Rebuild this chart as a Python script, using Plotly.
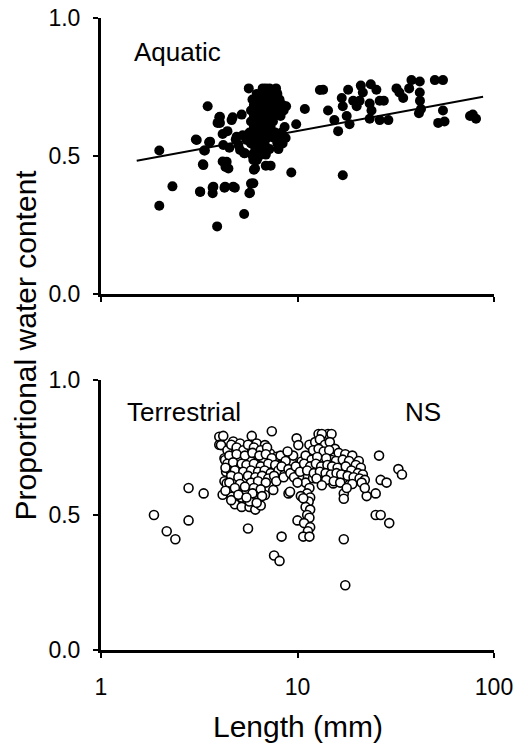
import numpy as np
import plotly.graph_objects as go

# aquatic species: body length (mm) and proportional water content
aquatic_length = [
    1.98, 1.98, 2.31, 3.04, 3.2, 3.3, 3.35, 3.49, 3.55, 3.7, 3.7, 3.9, 3.92, 4.0, 4.16,
    4.16, 4.3, 4.25, 4.4, 4.5, 4.68, 4.8, 4.85, 5.0, 5.2, 5.26, 5.35, 5.35, 5.65, 5.8,
    5.69, 5.92, 6.0, 6.65, 7.2, 7.78, 6.9, 7.3, 8.75, 8.3, 8.0, 9.3, 9.85, 10.9, 13.5,
    14.3, 15.4, 16.1, 17.0, 16.8, 17.0, 18.1, 17.8, 18.4, 19.2, 20.0, 20.7, 21.0, 21.5,
    23.6, 23.3, 23.8, 25.2, 26.2, 27.5, 23.3, 26.2, 29.0, 31.9, 33.0, 34.5, 38.0, 41.9,
    37.0, 41.9, 42.0, 42.5, 41.5, 50.0, 55.0, 55.0, 52.0, 56.0, 75.5, 81.0, 78.0,
    4.03, 4.03, 4.62, 3.07, 3.38, 3.59, 4.19, 4.9, 5.51, 5.1, 5.4, 5.96, 6.32, 6.08,
    3.32, 4.36, 4.45, 4.28, 4.71, 3.73, 3.19, 5.96, 5.73, 13.0,
    6.9, 6.2, 6.6, 7.0, 7.4, 7.9, 5.9, 6.3, 6.7, 7.1, 7.5, 8.1, 6.0, 6.4, 6.8, 7.2,
    7.7, 8.4, 5.8, 6.2, 6.6, 7.0, 7.4, 7.9, 8.5, 6.0, 6.4, 6.8, 7.2, 7.6, 8.2, 5.8,
    6.2, 6.6, 7.0, 7.5, 6.0, 6.5, 6.9, 7.3, 8.6, 5.7, 6.2, 6.7, 7.1, 7.7, 8.3, 6.0,
    6.5, 7.0, 7.6, 8.0, 8.7, 5.8, 6.3, 6.8, 7.9, 8.4, 6.1, 6.6, 7.2, 8.0, 5.9, 6.4,
    6.9, 6.2,
]
aquatic_water = [
    0.52, 0.32, 0.39, 0.56, 0.37, 0.47, 0.52, 0.68, 0.55, 0.385, 0.365, 0.245, 0.62, 0.64, 0.58,
    0.48, 0.46, 0.385, 0.59, 0.53, 0.64, 0.385, 0.56, 0.54, 0.65, 0.575, 0.51, 0.29, 0.745, 0.40,
    0.365, 0.50, 0.45, 0.745, 0.745, 0.745, 0.465, 0.465, 0.68, 0.575, 0.55, 0.44, 0.615, 0.67, 0.74,
    0.665, 0.63, 0.59, 0.43, 0.71, 0.68, 0.74, 0.645, 0.615, 0.70, 0.68, 0.70, 0.755, 0.73,
    0.76, 0.69, 0.665, 0.74, 0.70, 0.70, 0.635, 0.63, 0.63, 0.745, 0.73, 0.71, 0.775, 0.77,
    0.745, 0.73, 0.70, 0.67, 0.655, 0.775, 0.775, 0.665, 0.62, 0.625, 0.645, 0.635, 0.65,
    0.642, 0.62, 0.63, 0.558, 0.52, 0.552, 0.54, 0.57, 0.558, 0.522, 0.51, 0.486, 0.497, 0.455,
    0.467, 0.479, 0.455, 0.389, 0.389, 0.389, 0.371, 0.401, 0.367, 0.739,
    0.745, 0.725, 0.725, 0.725, 0.725, 0.725, 0.705, 0.705, 0.705, 0.705, 0.705, 0.705, 0.685, 0.685, 0.685, 0.685,
    0.685, 0.685, 0.665, 0.665, 0.665, 0.665, 0.665, 0.665, 0.665, 0.645, 0.645, 0.645, 0.645, 0.645, 0.645, 0.625,
    0.625, 0.625, 0.625, 0.625, 0.605, 0.605, 0.605, 0.605, 0.605, 0.585, 0.585, 0.585, 0.585, 0.585, 0.585, 0.565,
    0.565, 0.565, 0.565, 0.565, 0.565, 0.545, 0.545, 0.545, 0.545, 0.545, 0.525, 0.525, 0.525, 0.525, 0.505, 0.505,
    0.505, 0.485,
]

# terrestrial species
terr_length = [
    1.86, 2.16, 2.39, 2.79, 2.79, 3.33, 5.6, 7.4, 8.3, 7.6, 8.1, 17.2, 17.5, 17.2, 17.2,
    22.5, 25.0, 26.0, 25.0, 26.5, 29.3, 26.5, 28.4, 32.6, 34.0, 10.0, 12.8, 14.3,
    4.8, 5.2, 5.7, 6.1, 6.5, 4.0, 4.0, 4.16, 4.25, 4.33, 4.25,
    11.3, 11.0, 11.5, 11.2, 11.6, 11.4, 11.0, 11.6, 11.2, 11.5, 10.8, 11.6, 11.3, 10.7, 11.5, 10.4, 9.0,
    4.19, 4.08, 4.71, 5.1, 5.85, 6.2, 6.83, 9.9, 10.1, 13.3, 14.9,
    4.28, 4.71, 5.1, 4.53, 5.0, 5.73, 6.2, 6.7, 7.25, 7.84, 8.47, 9.34, 10.5, 12.0, 13.5, 14.9, 16.8,
    4.36, 4.9, 4.62, 5.51, 5.96, 6.83, 7.53, 9.16, 10.7, 12.0, 13.5, 15.2, 17.1,
    4.4, 4.6, 4.9, 5.3, 5.6, 6.0, 6.5, 7.0, 4.5, 4.9, 5.4, 5.9, 6.4, 6.9, 7.4, 4.4, 4.7, 5.2,
    5.5, 6.0, 6.5, 7.1, 7.7, 4.3, 4.8, 5.3, 5.8, 6.3, 6.8, 7.3, 8.0, 4.6, 5.0, 5.6, 6.1, 6.6,
    7.1, 7.6, 8.6, 4.5, 5.1, 5.8, 6.3, 6.9, 7.8, 4.8, 5.4, 6.0, 6.5, 4.3, 5.9, 6.6, 5.2, 4.6,
    5.7, 6.2, 5.0, 5.5,
    8.2, 8.7, 8.3, 9.0, 8.5, 9.2, 9.6, 9.5, 8.9, 9.8, 10.3, 10.0,
    11.5, 12.3, 13.0, 13.8, 14.6, 15.5, 12.0, 12.8, 13.6, 14.5, 16.2, 17.5, 19.0, 20.5, 11.0,
    11.8, 12.6, 14.0, 15.7, 17.0, 18.3, 19.8, 21.0, 10.8, 11.6, 12.4, 13.2, 14.2, 15.0, 16.0,
    17.6, 18.8, 20.3, 21.5, 11.2, 12.1, 13.0, 13.9, 14.8, 15.8, 16.7, 18.0, 19.3, 20.7, 22.0,
    12.5, 14.0, 15.3, 16.5, 19.0, 21.2, 22.0, 17.8, 13.3,
]
terr_water = [
    0.50, 0.44, 0.41, 0.60, 0.48, 0.58, 0.45, 0.81, 0.42, 0.35, 0.33, 0.41, 0.24, 0.58, 0.56,
    0.57, 0.58, 0.72, 0.50, 0.50, 0.47, 0.63, 0.62, 0.67, 0.65, 0.48, 0.80, 0.80,
    0.54, 0.53, 0.53, 0.52, 0.535, 0.79, 0.76, 0.575, 0.71, 0.66, 0.625,
    0.64, 0.62, 0.60, 0.58, 0.565, 0.55, 0.53, 0.52, 0.50, 0.49, 0.47, 0.455, 0.44, 0.42, 0.42, 0.57, 0.58,
    0.793, 0.759, 0.772, 0.765, 0.793, 0.765, 0.759, 0.784, 0.759, 0.80, 0.80,
    0.704, 0.71, 0.704, 0.667, 0.679, 0.704, 0.691, 0.704, 0.728, 0.716, 0.71, 0.698, 0.698, 0.716, 0.698, 0.704, 0.716,
    0.617, 0.593, 0.568, 0.586, 0.562, 0.574, 0.593, 0.586, 0.562, 0.636, 0.623, 0.617, 0.636,
    0.74, 0.76, 0.75, 0.74, 0.76, 0.75, 0.74, 0.75, 0.72, 0.725, 0.72, 0.73, 0.72, 0.725, 0.71, 0.69, 0.695, 0.69,
    0.685, 0.69, 0.68, 0.69, 0.685, 0.675, 0.665, 0.66, 0.665, 0.66, 0.665, 0.655, 0.665, 0.645, 0.64, 0.645, 0.64, 0.645,
    0.635, 0.645, 0.65, 0.62, 0.615, 0.62, 0.625, 0.62, 0.625, 0.60, 0.605, 0.60, 0.595, 0.59, 0.58, 0.57, 0.565, 0.555,
    0.55, 0.545, 0.575, 0.565,
    0.72, 0.70, 0.68, 0.67, 0.64, 0.655, 0.64, 0.72, 0.735, 0.68, 0.66, 0.62,
    0.76, 0.77, 0.78, 0.76, 0.77, 0.745, 0.74, 0.745, 0.735, 0.74, 0.73, 0.725, 0.72, 0.70, 0.72,
    0.705, 0.715, 0.71, 0.70, 0.705, 0.70, 0.685, 0.675, 0.69, 0.68, 0.69, 0.68, 0.685, 0.68, 0.675,
    0.68, 0.665, 0.655, 0.65, 0.665, 0.655, 0.66, 0.655, 0.65, 0.655, 0.65, 0.645, 0.64, 0.635, 0.63,
    0.635, 0.63, 0.625, 0.62, 0.615, 0.62, 0.60, 0.60, 0.61,
]

# fitted line for aquatic group: water = a + b*log10(length)
fit_a = 0.459
fit_b = 0.1315
fit_range = [1.52, 88.0]

y_ticks = [0, 0.5, 1.0]
y_ticktext = ["0.0", "0.5", "1.0"]
x_ticks = [1, 10, 100]

FONT = "Liberation Sans, Arial, sans-serif"

fit_x = np.logspace(np.log10(fit_range[0]), np.log10(fit_range[1]), 50)
fit_y = fit_a + fit_b * np.log10(fit_x)

fig = go.Figure()
fig.add_trace(go.Scatter(
    x=aquatic_length, y=aquatic_water, mode="markers",
    marker=dict(size=10, color="black", line=dict(width=0)),
    xaxis="x", yaxis="y", showlegend=False))
fig.add_trace(go.Scatter(
    x=fit_x, y=fit_y, mode="lines", line=dict(color="black", width=2),
    xaxis="x", yaxis="y", showlegend=False))
fig.add_trace(go.Scatter(
    x=terr_length, y=terr_water, mode="markers",
    marker=dict(size=9, color="white", line=dict(width=1.6, color="black")),
    xaxis="x2", yaxis="y2", showlegend=False))

ax_common = dict(showline=True, linecolor="black", linewidth=3, showgrid=False,
                 zeroline=False, ticks="outside", ticklen=5, tickwidth=2,
                 tickcolor="black", automargin=False, ticklabeloverflow="allow",
                 tickfont=dict(family=FONT, size=23, color="black"))

# the page body has an 8px margin, so the figure is a bit smaller than the window
fig.update_layout(
    width=520, height=736,
    margin=dict(l=93, r=34, t=10, b=94),
    paper_bgcolor="white", plot_bgcolor="white",
    font=dict(family=FONT, color="black"),
    xaxis=dict(type="log", range=[0, 2], domain=[0, 1], anchor="y",
               tickvals=x_ticks, showticklabels=False, **ax_common),
    yaxis=dict(range=[0, 1], domain=[0.5633, 1], anchor="x",
               tickvals=y_ticks, ticktext=y_ticktext, ticklabelstandoff=8, **ax_common),
    xaxis2=dict(type="log", range=[0, 2], domain=[0, 1], anchor="y2",
                tickvals=x_ticks, ticktext=["1", "10", "100"], ticklabelstandoff=9, **ax_common),
    yaxis2=dict(range=[0, 1], domain=[0, 0.4272], anchor="x2",
                tickvals=y_ticks, ticktext=y_ticktext, ticklabelstandoff=8, **ax_common),
)

fig.add_annotation(x=0.158, y=0.877, xref="x", yref="y", text="Aquatic",
                   showarrow=False, xanchor="left", yanchor="middle",
                   font=dict(family=FONT, size=26, color="black"))
fig.add_annotation(x=0.12, y=0.88, xref="x2", yref="y2", text="Terrestrial",
                   showarrow=False, xanchor="left", yanchor="middle",
                   font=dict(family=FONT, size=26, color="black"))
fig.add_annotation(x=1.537, y=0.88, xref="x2", yref="y2", text="NS",
                   showarrow=False, xanchor="left", yanchor="middle",
                   font=dict(family=FONT, size=26, color="black"))

# axis titles
fig.add_annotation(x=-0.192, y=0.4826, xref="paper", yref="paper",
                   text="Proportional water content", textangle=-90,
                   showarrow=False, xanchor="center", yanchor="middle",
                   font=dict(family=FONT, size=30, color="black"))
fig.add_annotation(x=0.5, y=-0.121, xref="paper", yref="paper",
                   text="Length (mm)", showarrow=False,
                   xanchor="center", yanchor="middle",
                   font=dict(family=FONT, size=30, color="black"))

fig.write_html("out.html")
